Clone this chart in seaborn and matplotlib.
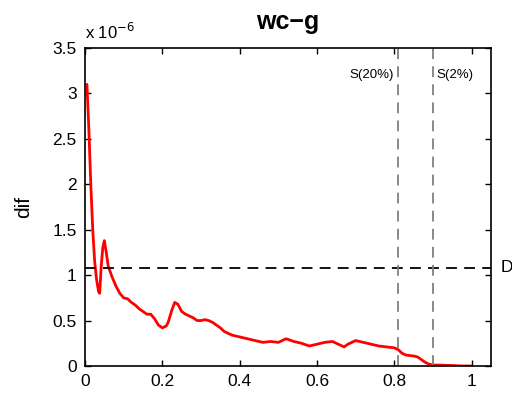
import numpy as np
import pandas as pd
import seaborn as sns
import matplotlib.pyplot as plt

# curve (dif in units of 1e-6)
x_vals = [0.005, 0.01, 0.015, 0.02, 0.025, 0.03, 0.035, 0.038, 0.042, 0.046, 0.05,
          0.055, 0.06, 0.07, 0.08, 0.09, 0.1, 0.11, 0.12, 0.13, 0.14, 0.15, 0.16,
          0.17, 0.18, 0.19, 0.2, 0.21, 0.215, 0.225, 0.232, 0.24, 0.25, 0.26, 0.27,
          0.28, 0.29, 0.3, 0.31, 0.32, 0.33, 0.34, 0.35, 0.36, 0.38, 0.4, 0.42,
          0.44, 0.46, 0.48, 0.5, 0.52, 0.54, 0.56, 0.58, 0.6, 0.62, 0.64, 0.66,
          0.67, 0.68, 0.7, 0.72, 0.74, 0.76, 0.78, 0.8, 0.81, 0.82, 0.83, 0.85,
          0.86, 0.87, 0.88, 0.89, 0.9, 0.92, 0.95, 0.98, 1.0]
dif_vals = [3.1, 2.6, 2.0, 1.5, 1.15, 0.95, 0.82, 0.8, 1.1, 1.3, 1.38,
            1.25, 1.1, 0.98, 0.88, 0.8, 0.75, 0.74, 0.7, 0.67, 0.63, 0.6, 0.57,
            0.57, 0.52, 0.45, 0.42, 0.44, 0.48, 0.62, 0.7, 0.68, 0.6, 0.57, 0.55,
            0.53, 0.5, 0.5, 0.51, 0.5, 0.48, 0.45, 0.42, 0.38, 0.34, 0.32, 0.3,
            0.28, 0.26, 0.27, 0.26, 0.3, 0.27, 0.25, 0.22, 0.24, 0.26, 0.27, 0.23,
            0.21, 0.24, 0.28, 0.26, 0.24, 0.22, 0.21, 0.2, 0.18, 0.14, 0.12, 0.11,
            0.1, 0.07, 0.04, 0.02, 0.01, 0.01, 0.005, 0.0, 0.0]

d_level = 1.08
s_lines = [0.809, 0.899]
s_labels = ["S(20%)", "S(2%)"]

data = pd.DataFrame({"x": x_vals, "dif": dif_vals})

sns.set_style("ticks", {"text.color": "black", "xtick.color": "black",
                        "ytick.color": "black", "axes.labelcolor": "black"})
plt.rcParams["font.family"] = ["Liberation Sans", "DejaVu Sans"]

fig = plt.figure(figsize=(5.12, 3.96), dpi=100)
ax = fig.add_axes([85/512, 1 - 366/396, (491-85)/512, (366-48)/396])

sns.lineplot(data=data, x="x", y="dif", color="red", linewidth=2, ax=ax)

ax.axhline(d_level, color="black", linestyle=(0, (6, 4)), linewidth=1.3)
for xv in s_lines:
    ax.axvline(xv, color="gray", linestyle=(0, (6, 4)), linewidth=1.3)

ax.text(s_lines[0] - 0.01, 3.2, s_labels[0], ha="right", va="center", fontsize=9.5)
ax.text(s_lines[1] + 0.01, 3.2, s_labels[1], ha="left", va="center", fontsize=9.5)
ax.text(1.075, d_level, "D", ha="left", va="center", fontsize=12.5, clip_on=False)

ax.set_xlim(0, 1.05)
ax.set_ylim(0, 3.5)
ax.set_xticks([0, 0.2, 0.4, 0.6, 0.8, 1])
ax.set_xticklabels(["0", "0.2", "0.4", "0.6", "0.8", "1"])
ax.set_yticks([0, 0.5, 1, 1.5, 2, 2.5, 3, 3.5])
ax.set_yticklabels(["0", "0.5", "1", "1.5", "2", "2.5", "3", "3.5"])
ax.tick_params(direction="in", top=True, right=True, labelsize=12.5, length=4,
               width=1, pad=6)
for sp in ax.spines.values():
    sp.set_linewidth(1.2)
    sp.set_color("black")

ax.set_xlabel("")
ax.set_ylabel("dif", fontsize=15, labelpad=14)
ax.set_title("wc\u2212g", fontsize=18, fontweight="bold", pad=14)
ax.text(0, 1.02, "x 10$^{-6}$", transform=ax.transAxes, fontsize=12,
        ha="left", va="bottom")

fig.savefig("out.png", dpi=100)
